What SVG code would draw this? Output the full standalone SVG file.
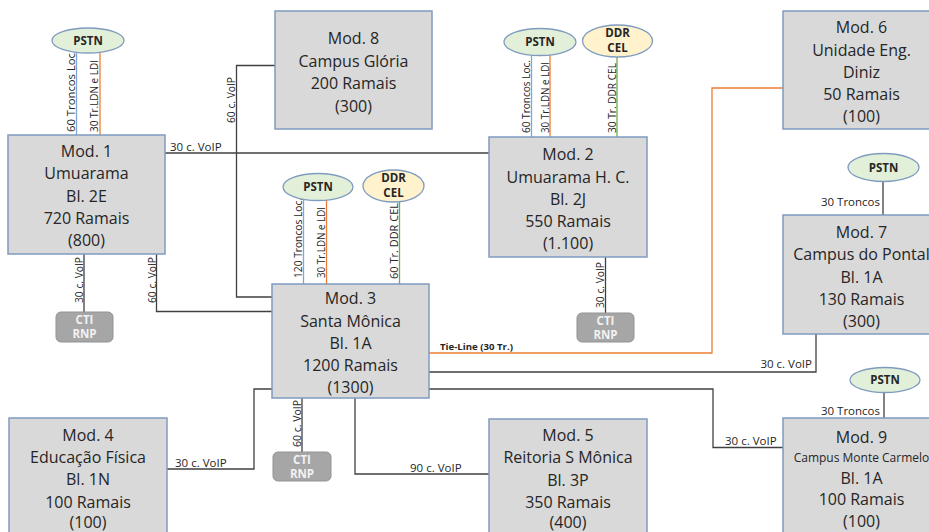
<svg xmlns="http://www.w3.org/2000/svg" width="929" height="532" viewBox="0 0 929 532">
<style>
.box{fill:#d9d9d9;stroke:#7f9cbf;stroke-width:1.5}
.bt{font-family:"Open Sans","Liberation Sans",sans-serif;font-size:16px;fill:#262626;text-anchor:middle}
.sm{font-size:12px}
.pstn{fill:#e2f0d9;stroke:#7f9cbf;stroke-width:1.3}
.ddr{fill:#fff2cc;stroke:#7f9cbf;stroke-width:1.3}
.et{font-family:"Open Sans","Liberation Sans",sans-serif;font-size:11.5px;font-weight:bold;fill:#262626;text-anchor:middle}
.cti{fill:#a6a6a6;stroke:#939393;stroke-width:1}
.ct{font-family:"Open Sans","Liberation Sans",sans-serif;font-size:11.5px;font-weight:bold;fill:#f2f2f2;text-anchor:middle}
.lb{font-family:"Open Sans","Liberation Sans",sans-serif;font-size:11.5px;fill:#262626}
.tie{font-size:9.5px;font-weight:bold}
.k{fill:none;stroke:#404040;stroke-width:1.3}
.b{fill:none;stroke:#7ea6d8;stroke-width:1.3}
.o{fill:none;stroke:#ed7d31;stroke-width:1.3}
.g{fill:none;stroke:#70ad47;stroke-width:1.3}
</style>
<rect width="929" height="532" fill="#ffffff"/>
<g id="connectors">
<line class="b" x1="76.5" y1="45" x2="76.5" y2="135"/>
<line class="o" x1="100" y1="45" x2="100" y2="135"/>
<text class="lb" transform="translate(74.5,132) rotate(-90)" textLength="82" lengthAdjust="spacingAndGlyphs">60 Troncos Loc.</text>
<text class="lb" transform="translate(98,132) rotate(-90)" textLength="72" lengthAdjust="spacingAndGlyphs">30 Tr.LDN e LDI</text>
<line class="k" x1="165" y1="153" x2="489" y2="153"/>
<text class="lb" x="170" y="151">30 c. VoIP</text>
<line class="k" x1="84" y1="254" x2="84" y2="312"/>
<text class="lb" transform="translate(83,303) rotate(-90)" textLength="46" lengthAdjust="spacingAndGlyphs">30 c. VoIP</text>
<polyline class="k" points="156.5,254 156.5,311.5 272,311.5"/>
<text class="lb" transform="translate(155.5,303) rotate(-90)" textLength="46" lengthAdjust="spacingAndGlyphs">60 c. VoIP</text>
<polyline class="k" points="275,65.5 236.5,65.5 236.5,297 272,297"/>
<text class="lb" transform="translate(235,123) rotate(-90)" textLength="46" lengthAdjust="spacingAndGlyphs">60 c. VoIP</text>
<line class="b" x1="303.5" y1="190" x2="303.5" y2="284"/>
<line class="o" x1="326.5" y1="190" x2="326.5" y2="284"/>
<line class="g" x1="399.5" y1="190" x2="399.5" y2="284"/>
<text class="lb" transform="translate(301.5,278) rotate(-90)" textLength="80" lengthAdjust="spacingAndGlyphs">120 Troncos Loc.</text>
<text class="lb" transform="translate(325,278) rotate(-90)" textLength="71" lengthAdjust="spacingAndGlyphs">30 Tr.LDN e LDI</text>
<text class="lb" transform="translate(397.5,279) rotate(-90)" textLength="76" lengthAdjust="spacingAndGlyphs">60 Tr. DDR CEL</text>
<line class="b" x1="531.5" y1="45" x2="531.5" y2="137"/>
<line class="o" x1="550" y1="45" x2="550" y2="137"/>
<line class="g" x1="617" y1="45" x2="617" y2="137"/>
<text class="lb" transform="translate(530,133) rotate(-90)" textLength="73" lengthAdjust="spacingAndGlyphs">60 Troncos Loc.</text>
<text class="lb" transform="translate(548.5,133) rotate(-90)" textLength="71" lengthAdjust="spacingAndGlyphs">30 Tr.LDN e LDI</text>
<text class="lb" transform="translate(615.5,133) rotate(-90)" textLength="70" lengthAdjust="spacingAndGlyphs">30 Tr. DDR CEL</text>
<line class="k" x1="605.5" y1="257" x2="605.5" y2="313"/>
<text class="lb" transform="translate(604,308) rotate(-90)" textLength="46" lengthAdjust="spacingAndGlyphs">30 c. VoIP</text>
<polyline class="o" points="429,353 712,353 712,88 783,88"/>
<text class="lb tie" x="440" y="350" textLength="73" lengthAdjust="spacingAndGlyphs">Tie-Line (30 Tr.)</text>
<polyline class="k" points="429,372 816,372 816,334"/>
<text class="lb" x="812" y="368" text-anchor="end">30 c. VoIP</text>
<line class="k" x1="883" y1="175" x2="883" y2="215"/>
<text class="lb" x="880" y="206" text-anchor="end">30 Troncos</text>
<polyline class="k" points="429,389 713,389 713,447.5 783,447.5"/>
<text class="lb" x="725" y="445">30 c. VoIP</text>
<line class="k" x1="884" y1="385" x2="884" y2="418"/>
<text class="lb" x="880" y="414.5" text-anchor="end">30 Troncos</text>
<polyline class="k" points="167,469 254,469 254,389 272,389"/>
<text class="lb" x="175" y="467">30 c. VoIP</text>
<line class="k" x1="302" y1="398" x2="302" y2="452"/>
<text class="lb" transform="translate(300.5,447) rotate(-90)" textLength="47" lengthAdjust="spacingAndGlyphs">60 c. VoIP</text>
<polyline class="k" points="355,398 355,474 489,474"/>
<text class="lb" x="410" y="471.5">90 c. VoIP</text>
</g>
<g id="pstn1"><ellipse class="pstn" cx="88" cy="40.5" rx="36" ry="12.5"/><text class="et" x="88" y="44.5">PSTN</text></g>
<g id="pstn2"><ellipse class="pstn" cx="540" cy="42" rx="36" ry="13.5"/><text class="et" x="540" y="46">PSTN</text></g>
<g id="ddr2"><ellipse class="ddr" cx="617.5" cy="41" rx="35" ry="16"/><text class="et" x="617.5" y="37">DDR</text><text class="et" x="617.5" y="52">CEL</text></g>
<g id="pstn3"><ellipse class="pstn" cx="318" cy="187" rx="35" ry="13.5"/><text class="et" x="318" y="191">PSTN</text></g>
<g id="ddr3"><ellipse class="ddr" cx="393.5" cy="186" rx="30.5" ry="16"/><text class="et" x="393.5" y="182">DDR</text><text class="et" x="393.5" y="197">CEL</text></g>
<g id="pstn7"><ellipse class="pstn" cx="883.5" cy="167.5" rx="35.5" ry="14"/><text class="et" x="883.5" y="171.5">PSTN</text></g>
<g id="pstn9"><ellipse class="pstn" cx="885" cy="380" rx="35" ry="12.5"/><text class="et" x="885" y="384">PSTN</text></g>
<g id="cti1"><rect class="cti" x="56" y="312" width="57" height="30" rx="5"/><text class="ct" x="84.5" y="324">CTI</text><text class="ct" x="84.5" y="338">RNP</text></g>
<g id="cti2"><rect class="cti" x="577" y="313" width="57" height="29" rx="5"/><text class="ct" x="605.5" y="324.5">CTI</text><text class="ct" x="605.5" y="338.5">RNP</text></g>
<g id="cti3"><rect class="cti" x="273" y="452" width="58" height="29" rx="5"/><text class="ct" x="302" y="463.5">CTI</text><text class="ct" x="302" y="477.5">RNP</text></g>
<g id="mod1"><rect class="box" x="8" y="135" width="157" height="119"/>
<text class="bt" x="86.5" y="156.5">Mod. 1</text><text class="bt" x="86.5" y="179">Umuarama</text><text class="bt" x="86.5" y="201.5">Bl. 2E</text><text class="bt" x="86.5" y="224">720 Ramais</text><text class="bt" x="86.5" y="246">(800)</text></g>
<g id="mod8"><rect class="box" x="275" y="11" width="157" height="118"/>
<text class="bt" x="353.5" y="44">Mod. 8</text><text class="bt" x="353.5" y="66.5">Campus Glória</text><text class="bt" x="353.5" y="89">200 Ramais</text><text class="bt" x="353.5" y="111.5">(300)</text></g>
<g id="mod2"><rect class="box" x="489" y="137" width="158" height="120"/>
<text class="bt" x="568" y="160">Mod. 2</text><text class="bt" x="568" y="182.5">Umuarama H. C.</text><text class="bt" x="568" y="204.5">Bl. 2J</text><text class="bt" x="568" y="227">550 Ramais</text><text class="bt" x="568" y="249">(1.100)</text></g>
<g id="mod3"><rect class="box" x="272" y="284" width="157" height="114"/>
<text class="bt" x="350.5" y="304">Mod. 3</text><text class="bt" x="350.5" y="326.5">Santa Mônica</text><text class="bt" x="350.5" y="348.5">Bl. 1A</text><text class="bt" x="350.5" y="370.5">1200 Ramais</text><text class="bt" x="350.5" y="392.5">(1300)</text></g>
<g id="mod6"><rect class="box" x="783" y="11" width="157" height="118"/>
<text class="bt" x="861.5" y="33">Mod. 6</text><text class="bt" x="861.5" y="55.5">Unidade Eng.</text><text class="bt" x="861.5" y="77.5">Diniz</text><text class="bt" x="861.5" y="100">50 Ramais</text><text class="bt" x="861.5" y="122">(100)</text></g>
<g id="mod7"><rect class="box" x="783" y="215" width="157" height="119"/>
<text class="bt" x="861.5" y="238">Mod. 7</text><text class="bt" x="861.5" y="260">Campus do Pontal</text><text class="bt" x="861.5" y="282.5">Bl. 1A</text><text class="bt" x="861.5" y="304.5">130 Ramais</text><text class="bt" x="861.5" y="326.5">(300)</text></g>
<g id="mod9"><rect class="box" x="783" y="418" width="157" height="119"/>
<text class="bt" x="861.5" y="443">Mod. 9</text><text class="bt sm" x="861.5" y="461.5">Campus Monte Carmelo</text><text class="bt" x="861.5" y="484">Bl. 1A</text><text class="bt" x="861.5" y="505">100 Ramais</text><text class="bt" x="861.5" y="526.5">(100)</text></g>
<g id="mod4"><rect class="box" x="9" y="418" width="158" height="119"/>
<text class="bt" x="88" y="441">Mod. 4</text><text class="bt" x="88" y="463">Educação Física</text><text class="bt" x="88" y="485">Bl. 1N</text><text class="bt" x="88" y="507.5">100 Ramais</text><text class="bt" x="88" y="528">(100)</text></g>
<g id="mod5"><rect class="box" x="489" y="419" width="158" height="118"/>
<text class="bt" x="568" y="441">Mod. 5</text><text class="bt" x="568" y="463">Reitoria S Mônica</text><text class="bt" x="568" y="485.5">Bl. 3P</text><text class="bt" x="568" y="508">350 Ramais</text><text class="bt" x="568" y="528">(400)</text></g>
</svg>
